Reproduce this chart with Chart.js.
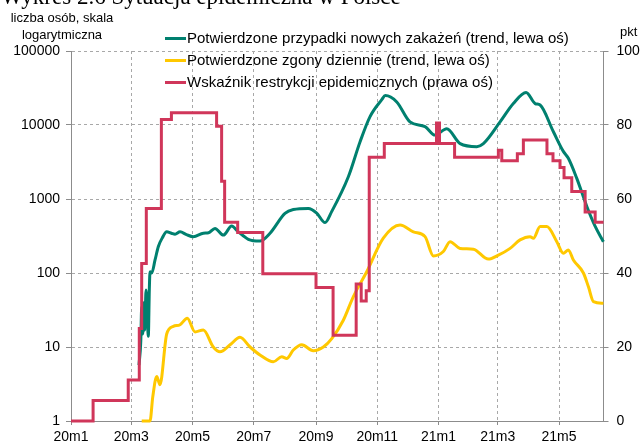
<!DOCTYPE html>
<html><head><meta charset="utf-8">
<script src="https://cdn.jsdelivr.net/npm/chart.js@4.4.1/dist/chart.umd.min.js"></script>
<style>
html,body{margin:0;padding:0;background:#fff;}
#wrap{position:relative;width:641px;height:444px;overflow:hidden;font-family:"Liberation Sans",Arial,sans-serif;color:#000;}
#c{position:absolute;left:0;top:0;}
.title{position:absolute;left:1px;top:-15px;font-family:"Liberation Serif","Times New Roman",serif;font-size:23px;line-height:23px;white-space:nowrap;}
.ytl{position:absolute;left:2px;top:10px;width:120px;text-align:center;font-size:13px;line-height:16.5px;}
.ytr{position:absolute;left:620px;top:24px;font-size:13px;line-height:16px;}
.leg{position:absolute;left:165px;font-size:15px;line-height:16px;white-space:nowrap;}
.leg span.l{display:inline-block;width:21px;height:3px;vertical-align:middle;margin-right:1px;position:relative;top:-1px;}
</style></head>
<body>
<div id="wrap">
<canvas id="c" width="641" height="444"></canvas>
<div class="title">Wykres 2.6 Sytuacja epidemiczna w Polsce</div>
<div class="ytl">liczba osób, skala<br>logarytmiczna</div>
<div class="ytr">pkt</div>
<div class="leg" style="top:30px"><span class="l" style="background:#00806F"></span>Potwierdzone przypadki nowych zakażeń (trend, lewa oś)</div>
<div class="leg" style="top:52px"><span class="l" style="background:#FFC800"></span>Potwierdzone zgony dziennie (trend, lewa oś)</div>
<div class="leg" style="top:74px"><span class="l" style="background:#D0365A"></span>Wskaźnik restrykcji epidemicznych (prawa oś)</div>
</div>
<script>
// x = days since 2020-01-01
const tickDays = [0, 60, 121, 182, 244, 305, 366, 425, 486];
const tickLabels = ['20m1','20m3','20m5','20m7','20m9','20m11','21m1','21m3','21m5'];
const leftTicks = [1, 10, 100, 1000, 10000, 100000];
const rightTicks = [0, 20, 40, 60, 80, 100];

const casesDays = [67.7,69.5,70.4,71.5,72.7,73.5,74.7,76,77,78,78.7,80.4,83.7,87,91,95.3,100,103.6,108.6,115,121.8,131.8,137,143.4,151.7,160,166.6,176.6,188.2,198.2,213.1,221.4,236.4,244.7,253,259.7,276.2,287.8,297.8,309.5,313,324.4,337.6,352.6,362.5,374.2,387.5,404.1,410.7,427.3,440.5,453.2,462.2,467.2,480.4,490.3,495.3,503.7,513.6,521.9,530.2];
const casesValues = [5.7,12,35,15,40,17,59,25,14,60,104,100,150,228,300,360,345,335,360,330,310,345,350,400,325,430,360,285,270,345,640,720,745,645,480,680,2000,5900,13000,22000,25000,20500,11000,9500,7300,8900,5600,5100,5600,11000,19500,27500,19500,18600,8100,4400,3550,1900,800,430,265];

const deathsDays = [70.4,78.7,81.4,85.4,88.6,95.3,101.9,108.6,115.8,123.5,131.8,141.7,148.4,158.4,168.3,178.3,188.2,201.5,209.9,214.8,221.4,229.8,241.3,251.3,259.7,271.2,281.2,294.5,311,327.7,341,352.6,360.9,370.8,377.5,387.5,400.7,415.6,425.6,437.3,447.2,457.2,460.5,467.2,473.9,483.8,490.3,495.3,500.3,510.3,515.3,520.3,530.2];
const deathsValues = [1,1,2.1,4,3.1,15,19,20,24.5,16,17,10,8.6,10.7,13.5,10,7.8,6.3,7.4,7,9.1,10.7,8.9,10,13,23,48,104,295,445,360,310,170,195,265,215,210,154,174,215,280,310,295,425,425,265,185,205,150,100,65,41,39];

const stringencyDays = [0,22,57,68,70.4,75,90,100,145,150,153,166,191,244,261,284,289,294,297,312,364,367,382,425.6,429,444.5,450.5,474,480,487,491,498.7,512,522,530.3];
const stringencyValues = [0,5.56,11.11,25,42.59,57.41,81.48,83.33,79.63,64.81,53.7,50.93,39.81,36.11,23.15,37.04,32.41,35.19,71.3,75,80.56,75,71.3,73.15,70.37,72.22,75.93,72.22,70.37,68.52,65.74,62.04,56.48,53.7,53.7];

const pts = (xs, ys) => xs.map((x, i) => ({x: x, y: ys[i]}));
const FONT = {family: '"Liberation Sans", Arial, sans-serif', size: 14};
const GRID = '#A8A8A8';
const AXIS = '#8C8C8C';

new Chart(document.getElementById('c'), {
  type: 'line',
  data: {
    datasets: [
      {data: pts(stringencyDays, stringencyValues), yAxisID: 'yR', borderColor: '#D0365A', borderWidth: 3, pointRadius: 0, stepped: true, order: 0, clip: false},
      {data: pts(casesDays, casesValues), yAxisID: 'yL', borderColor: '#00806F', borderWidth: 3, pointRadius: 0, cubicInterpolationMode: 'monotone', order: 1, clip: false},
      {data: pts(deathsDays, deathsValues), yAxisID: 'yL', borderColor: '#FFC800', borderWidth: 3, pointRadius: 0, cubicInterpolationMode: 'monotone', order: 2, clip: false}
    ]
  },
  options: {
    responsive: false, animation: false,
    layout: {padding: {top: 51, left: 0, right: 0, bottom: 0}},
    plugins: {legend: {display: false}, tooltip: {enabled: false}},
    scales: {
      x: {
        type: 'linear', min: 0, max: 530.3,
        afterBuildTicks: s => { s.ticks = tickDays.map(v => ({value: v})); },
        afterFit: s => { s.height = 23; },
        ticks: {autoSkip: false, maxRotation: 0, color: '#000', font: FONT, padding: 4,
          callback: (v, i) => tickLabels[i]},
        grid: {color: GRID, lineWidth: 1, tickLength: 4, tickColor: AXIS, tickBorderDash: []},
        border: {color: AXIS, width: 1, dash: [3, 3]}
      },
      yL: {
        type: 'logarithmic', position: 'left', min: 1, max: 100000,
        afterBuildTicks: s => { s.ticks = leftTicks.map(v => ({value: v})); },
        afterFit: s => { s.width = 71; },
        ticks: {color: '#000', font: FONT, padding: 6, callback: v => String(v)},
        grid: {color: GRID, lineWidth: 1, tickLength: 5, tickColor: AXIS, tickBorderDash: []},
        border: {color: AXIS, width: 1, dash: [3, 3]}
      },
      yR: {
        type: 'linear', position: 'right', min: 0, max: 100,
        afterBuildTicks: s => { s.ticks = rightTicks.map(v => ({value: v})); },
        afterFit: s => { s.width = 37.5; },
        ticks: {color: '#000', font: FONT, padding: 8},
        grid: {drawOnChartArea: false, tickLength: 5, tickColor: AXIS},
        border: {color: AXIS, width: 1}
      }
    }
  }
});
</script>
</body></html>
